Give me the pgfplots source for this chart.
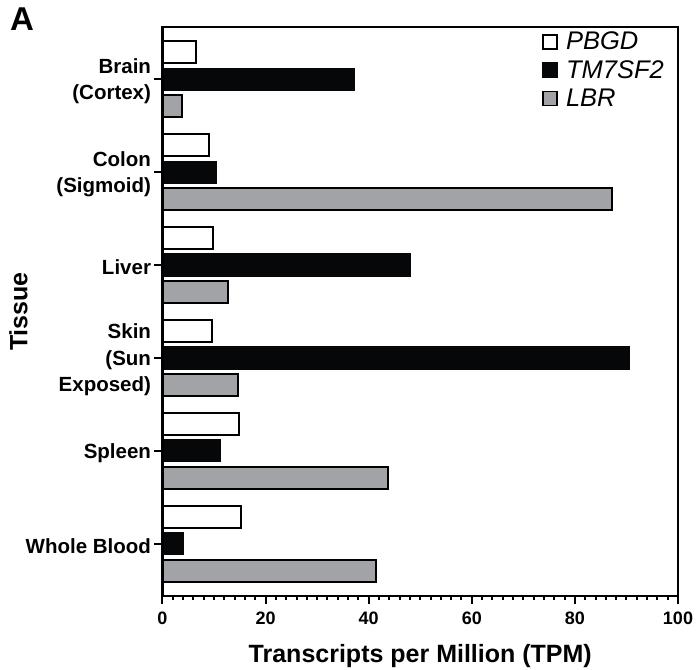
\documentclass[border=0pt]{standalone}
\usepackage{pgfplots}
\pgfplotsset{compat=1.18}
\usepackage{fontspec}
\setmainfont{Liberation Sans}
\definecolor{barblack}{HTML}{050709}
\definecolor{bargray}{HTML}{A2A3A6}
\begin{document}
\begin{tikzpicture}
\useasboundingbox (-162.5bp,-74bp) rectangle (533.5bp,596bp);
\begin{axis}[
  at={(0,0)}, anchor=south west, scale only axis,
  width=515.5bp, height=569bp,
  xbar, xmin=0, xmax=100, ymin=-0.56, ymax=5.56, y dir=reverse,
  axis on top,
  xtick={0,20,...,100}, minor x tick num=9,
  ytick={0,1,2,3,4,5},
  yticklabels={{Brain\\(Cortex)},{Colon\\(Sigmoid)},{Liver},{Skin\\(Sun\\Exposed)},{Spleen},{Whole Blood}},
  xtick pos=left, ytick pos=left,
  tick align=outside, major tick length=8bp, minor tick length=4bp,
  axis line style={line width=2.5bp},
  every tick/.style={line width=2bp, black},
  /pgf/number format/assume math mode=true,
  xticklabel style={font=\bfseries\fontsize{18bp}{22bp}\selectfont, yshift=-4bp},
  yticklabel style={align=right, font=\bfseries\fontsize{20.5bp}{26.5bp}\selectfont, yshift=-2bp},
  xlabel={Transcripts per Million (TPM)},
  xlabel style={font=\bfseries\fontsize{25bp}{30bp}\selectfont, at={(axis description cs:0.5,0)}, anchor=center, yshift=-60bp},
  ylabel={Tissue},
  ylabel style={font=\bfseries\fontsize{25bp}{30bp}\selectfont, at={(axis description cs:0,0.5)}, anchor=center, yshift=144bp},
  bar width=0.237,
  legend style={draw=none, fill=none, at={(1,1)}, anchor=north east, xshift=-12bp, yshift=-3bp,
    font=\itshape\fontsize{25.5bp}{29bp}\selectfont, row sep=5bp, inner sep=0pt},
  legend cell align=left,
  legend image code/.code={\draw[#1, line width=1.4bp] (0bp,-7bp) rectangle (14bp,7bp); \path[draw=none, fill=none] (0bp,0bp) rectangle (21bp,0.1bp);},
  clip=false,
]
\addplot[draw=black, line width=2bp, fill=white, bar shift=-0.29] coordinates {
  (6.5,0) (9.1,1) (9.7,2) (9.6,3) (14.9,4) (15.2,5)};
\addplot[draw=barblack, line width=1bp, fill=barblack, bar shift=0] coordinates {
  (37.3,0) (10.4,1) (48.1,2) (90.6,3) (11.3,4) (4.0,5)};
\addplot[draw=black, line width=2bp, fill=bargray, bar shift=0.29] coordinates {
  (3.8,0) (87.1,1) (12.8,2) (14.6,3) (43.7,4) (41.5,5)};
\legend{PBGD, TM7SF2, LBR}
\end{axis}
\node[anchor=base west, font=\bfseries\fontsize{33bp}{38bp}\selectfont, inner sep=0pt] at (-152.5bp,565bp) {A};
\end{tikzpicture}
\end{document}
